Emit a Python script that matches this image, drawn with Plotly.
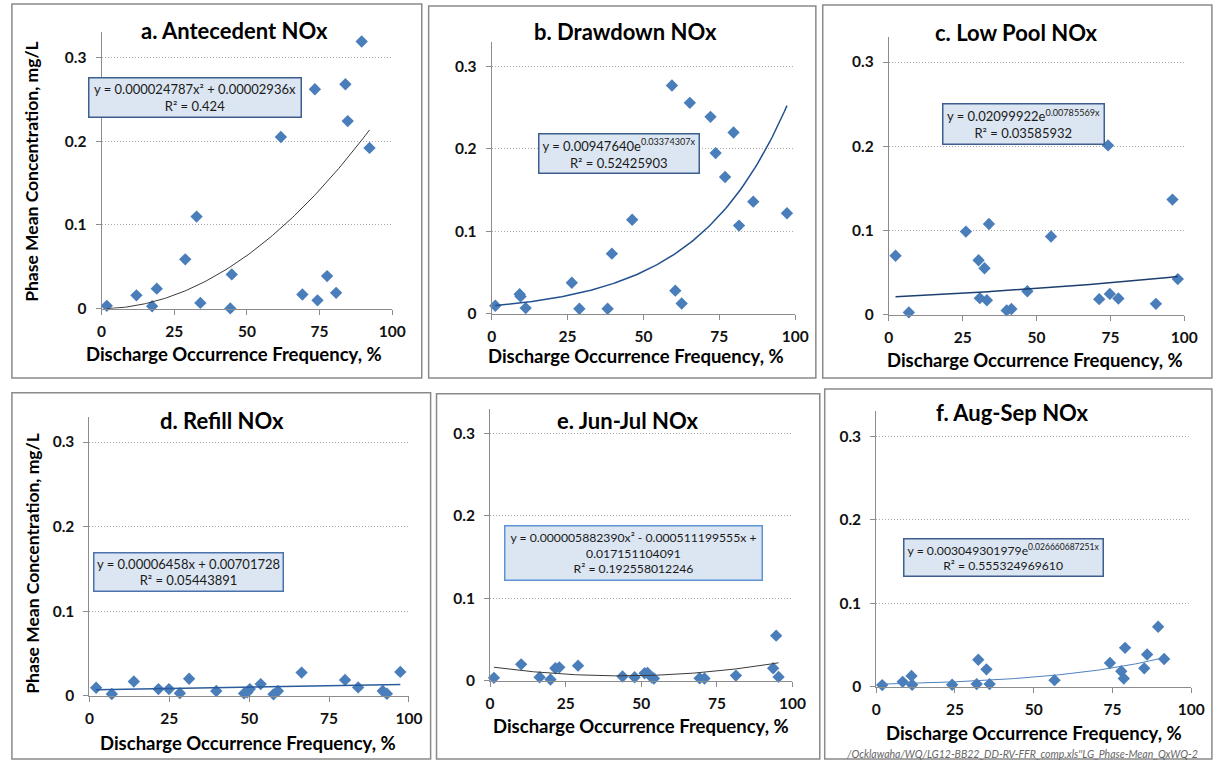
import numpy as np
import plotly.graph_objects as go

W, H = 1218, 769

# ---- phase data: discharge occurrence frequency (%) vs phase mean NOx (mg/L)
ant_x = [1.8, 12.0, 17.4, 19.0, 28.8, 32.7, 34.0, 44.3, 44.8, 61.7, 69.1, 73.4, 74.3, 77.6, 80.7, 83.9, 84.7, 89.5, 92.2]
ant_y = [0.0035, 0.016, 0.003, 0.024, 0.059, 0.110, 0.007, 0.0004, 0.041, 0.205, 0.017, 0.262, 0.010, 0.039, 0.019, 0.268, 0.224, 0.319, 0.192]

draw_x = [1.2, 9.2, 9.5, 11.2, 26.4, 28.9, 38.2, 39.6, 46.3, 59.4, 60.5, 62.6, 65.3, 72.1, 73.8, 76.9, 79.7, 81.5, 86.2, 97.3]
draw_y = [0.0096, 0.0237, 0.021, 0.0068, 0.0376, 0.006, 0.006, 0.0729, 0.114, 0.277, 0.028, 0.0124, 0.256, 0.239, 0.195, 0.166, 0.220, 0.107, 0.136, 0.122]

low_x = [2.3, 6.8, 26.1, 30.4, 30.8, 32.4, 33.2, 33.9, 39.9, 41.5, 46.9, 54.9, 71.2, 74.2, 74.8, 77.7, 90.4, 96.0, 97.8]
low_y = [0.070, 0.0027, 0.0987, 0.0646, 0.0196, 0.0552, 0.0172, 0.1077, 0.0051, 0.0067, 0.0278, 0.0928, 0.0184, 0.201, 0.0247, 0.0192, 0.0129, 0.1367, 0.0423]

ref_x = [2.1, 7.0, 13.9, 21.6, 24.9, 28.3, 31.2, 39.7, 48.4, 49.4, 50.2, 53.6, 57.6, 59.0, 66.4, 80.0, 84.1, 91.8, 93.1, 97.3]
ref_y = [0.0094, 0.002, 0.0168, 0.0078, 0.0078, 0.003, 0.020, 0.0055, 0.0027, 0.004, 0.0078, 0.0137, 0.0016, 0.0055, 0.0273, 0.0187, 0.0098, 0.0055, 0.0023, 0.0281]

jj_x = [1.3, 10.3, 16.4, 20.0, 21.6, 22.9, 29.1, 43.8, 47.8, 51.1, 52.1, 53.5, 54.2, 69.3, 70.9, 81.3, 93.6, 94.6, 95.4]
jj_y = [0.0036, 0.020, 0.0044, 0.0016, 0.0152, 0.0164, 0.0184, 0.0052, 0.0044, 0.0092, 0.0096, 0.004, 0.0028, 0.0032, 0.0028, 0.0064, 0.0152, 0.0548, 0.0048]

as_x = [1.9, 8.4, 11.2, 11.4, 24.1, 31.9, 32.4, 35.0, 36.0, 56.6, 74.2, 77.8, 78.6, 79.0, 85.1, 86.0, 89.5, 91.4]
as_y = [0.002, 0.0059, 0.013, 0.0024, 0.0024, 0.0032, 0.0324, 0.0209, 0.0032, 0.0079, 0.0284, 0.0186, 0.0099, 0.0466, 0.0221, 0.0387, 0.0719, 0.0332]

# ---- fitted trend-line coefficients
ant_poly = [0.000024787, 0.00002936, 0.0]                  # a x^2 + b x + c
draw_exp = [0.00947640, 0.03374307]                         # a e^(b x)
low_exp = [0.02099922, 0.00785569]
ref_lin = [0.00006458, 0.00701728]                          # a x + b
jj_poly = [0.000005882390, -0.000511199555, 0.017151104091]
as_exp = [0.003049301979, 0.026660687251]

titles = ["a. Antecedent NOx", "b. Drawdown NOx", "c. Low Pool NOx",
          "d. Refill NOx", "e. Jun-Jul NOx", "f. Aug-Sep NOx"]

eq_text = [
    "y = 0.000024787x² + 0.00002936x<br>R² = 0.424",
    "y = 0.00947640e<sup>0.03374307x</sup><br>R² = 0.52425903",
    "y = 0.02099922e<sup>0.00785569x</sup><br>R² = 0.03585932",
    "y = 0.00006458x + 0.00701728<br>R² = 0.05443891",
    "y = 0.000005882390x² - 0.000511199555x +<br>0.017151104091<br>R² = 0.192558012246",
    "y = 0.003049301979e<sup>0.026660687251x</sup><br>R² = 0.555324969610",
]

x_title = "Discharge Occurrence Frequency, %"
y_title = "Phase Mean Concentration, mg/L"
footnote = "/Ocklawaha/WQ/LG12-BB22_DD-RV-FFR_comp.xls''LG_Phase-Mean_QxWQ-2"


def fit_curve(kind, coef, xs):
    x = np.linspace(min(xs), max(xs), 120)
    if kind == "poly":
        y = coef[0] * x ** 2 + coef[1] * x + coef[2]
    elif kind == "exp":
        y = coef[0] * np.exp(coef[1] * x)
    else:
        y = coef[0] * x + coef[1]
    return x, y


panels = [
    # data, fit, plot-area pixels (x0, x100, y0, y0.3), title pos, xtitle pos,
    # equation box (cx, cy, w, h) and its font size, trend-line style, box border
    dict(x=ant_x, y=ant_y, fit=("poly", ant_poly), area=(98, 393, 312, 58),
         tpos=(233, 31), xt=(232, 358), box=(192.5, 99, 213, 40), bf=13,
         line=dict(color="#3a3a3a", width=1), bc="#3d5f8f"),
    dict(x=draw_x, y=draw_y, fit=("exp", draw_exp), area=(494, 802, 317, 67.3),
         tpos=(630, 32), xt=(640, 360), box=(623.5, 155, 161, 40), bf=13,
         line=dict(color="#23508f", width=1.5), bc="#3d5f8f"),
    dict(x=low_x, y=low_y, fit=("exp", low_exp), area=(897, 1197, 318, 62.7),
         tpos=(1027, 33), xt=(1045, 364), box=(1033.7, 125.5, 162, 41), bf=13,
         line=dict(color="#1c3f6e", width=1.5), bc="#3d5f8f"),
    dict(x=ref_x, y=ref_y, fit=("lin", ref_lin), area=(85.7, 410, 703, 446.7),
         tpos=(220, 425), xt=(247, 751), box=(186, 578.5, 190, 39), bf=13,
         line=dict(color="#2a5b9c", width=1.5), bc="#4a72ad"),
    dict(x=jj_x, y=jj_y, fit=("poly", jj_poly), area=(492.3, 799.3, 688, 438),
         tpos=(632, 425), xt=(646, 734), box=(637.5, 558.5, 258, 55), bf=12.2,
         line=dict(color="#3a3a3a", width=1), bc="#5f93d8"),
    dict(x=as_x, y=as_y, fit=("exp", as_exp), area=(884.3, 1204, 694, 440.7),
         tpos=(1023, 417), xt=(1044, 741), box=(1013, 563, 200, 38), bf=12.2,
         line=dict(color="#4f81bd", width=1), bc="#3d5f8f"),
]

# outer frame of each panel (left, top, right, bottom) in pixels
frames = [(7, 4, 423, 382), (430, 6, 823, 382), (830, 5, 1225, 382),
          (7, 397, 432, 767), (438, 398, 827, 767), (832, 393, 1225, 767)]

YMAX = 0.33
FONT = "Lato, 'Open Sans', sans-serif"

fig = go.Figure()
annotations = []
shapes = []

for i, p in enumerate(panels):
    n = "" if i == 0 else str(i + 1)
    x0, x100, y0, y03 = p["area"]
    ytop = y0 - (y0 - y03) * (YMAX / 0.3)
    xa, ya = "x" + n, "y" + n

    fig.add_trace(go.Scatter(
        x=p["x"], y=p["y"], mode="markers", xaxis=xa, yaxis=ya,
        marker=dict(symbol="diamond", size=9.5, color="#4a7ebb",
                    line=dict(width=0)),
        cliponaxis=False, showlegend=False, hoverinfo="skip"))
    fx, fy = fit_curve(p["fit"][0], p["fit"][1], p["x"])
    fig.add_trace(go.Scatter(
        x=fx, y=fy, mode="lines", xaxis=xa, yaxis=ya, line=p["line"],
        cliponaxis=False, showlegend=False, hoverinfo="skip"))

    axis_common = dict(showline=True, linecolor="#8c8c8c", linewidth=1,
                       ticks="outside", ticklen=5, tickcolor="#8c8c8c",
                       zeroline=False, fixedrange=True,
                       tickfont=dict(family=FONT, size=15.5, color="#111111", weight="bold"))
    fig.update_layout(**{
        "xaxis" + n: dict(domain=[x0 / W, x100 / W], anchor=ya, range=[0, 100],
                          tickvals=[0, 25, 50, 75, 100], showgrid=False,
                          ticklabelstandoff=4, **axis_common),
        "yaxis" + n: dict(domain=[1 - y0 / H, 1 - ytop / H], anchor=xa, range=[0, YMAX],
                          tickvals=[0, 0.1, 0.2, 0.3], ticktext=["0", "0.1", "0.2", "0.3"],
                          showgrid=True, gridcolor="#a8a8a8", griddash="1px,2px", gridwidth=1,
                          ticklabelstandoff=6, **axis_common),
    })

    # panel title
    tx, ty = p["tpos"]
    annotations.append(dict(x=tx / W, y=1 - ty / H, xref="paper", yref="paper",
                            text=titles[i], showarrow=False, xanchor="center", yanchor="middle",
                            font=dict(family=FONT, size=22, color="#000000", weight="bold")))
    # x-axis title
    ax, ay = p["xt"]
    annotations.append(dict(x=ax / W, y=1 - ay / H, xref="paper", yref="paper",
                            text=x_title, showarrow=False, xanchor="center", yanchor="middle",
                            font=dict(family=FONT, size=18.5, color="#000000", weight="bold")))
    # equation box
    bx, by, bw, bh = p["box"]
    annotations.append(dict(x=bx / W, y=1 - by / H, xref="paper", yref="paper",
                            text=eq_text[i], showarrow=False, xanchor="center", yanchor="middle",
                            width=bw - 4, height=bh - 4, borderpad=1, borderwidth=1.5,
                            bordercolor=p["bc"], bgcolor="#dce6f2", align="center",
                            font=dict(family=FONT, size=p["bf"], color="#1a1a1a")))

    l, t, r, b = frames[i]
    shapes.append(dict(type="rect", xref="paper", yref="paper",
                       x0=l / W, x1=r / W, y0=1 - b / H, y1=1 - t / H,
                       line=dict(color="#8a8a8a", width=1.5), fillcolor="rgba(0,0,0,0)"))

# y-axis titles on the left column
for cy in (173, 569):
    annotations.append(dict(x=27 / W, y=1 - cy / H, xref="paper", yref="paper",
                            text=y_title, textangle=-90, showarrow=False,
                            xanchor="center", yanchor="middle",
                            font=dict(family=FONT, size=17.5, color="#000000", weight="bold")))

annotations.append(dict(x=1213 / W, y=1 - 762 / H, xref="paper", yref="paper",
                        text="<i>" + footnote + "</i>", showarrow=False,
                        xanchor="right", yanchor="middle",
                        font=dict(family=FONT, size=10.5, color="#666666")))

fig.update_layout(width=W, height=H, margin=dict(l=0, r=0, t=0, b=0),
                  paper_bgcolor="white", plot_bgcolor="white",
                  annotations=annotations, shapes=shapes, showlegend=False)

fig.write_html("out.html", config={"displayModeBar": False})
